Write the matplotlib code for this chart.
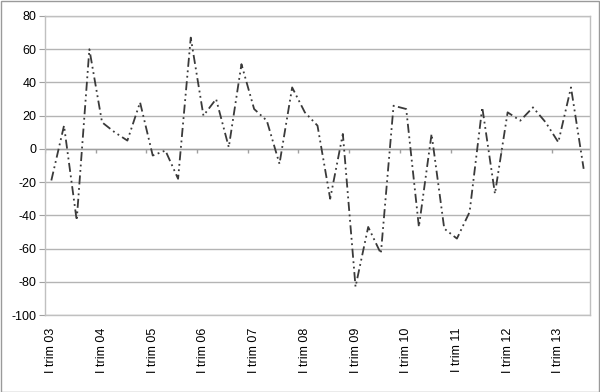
import matplotlib
matplotlib.use("Agg")
import matplotlib.pyplot as plt
from matplotlib.patches import Rectangle
import numpy as np

plt.rcParams['font.family'] = ['Liberation Sans', 'DejaVu Sans']

values = [-19, 14, -43, 60, 16, 10, 5, 28, -4, -1, -18, 67,
          20, 30, 1, 51, 24, 17, -9, 37, 22, 14, -30, 9,
          -83, -47, -63, 26, 24, -47, 9, -48, -54, -38, 25, -27,
          22, 17, 25, 16, 4, 37, -12]
years = ['03', '04', '05', '06', '07', '08', '09', '10', '11', '12', '13']
tick_labels = ['I trim ' + y for y in years]
y_ticks = list(range(-100, 81, 20))

fig = plt.figure(figsize=(6.0, 3.92), dpi=100)
ax = fig.add_axes([45/600, 1-315/392, 545/600, 299/392])

x = np.arange(len(values))
ax.plot(x, values, color='#3a3a3a', lw=1.3,
        linestyle=(0, (5, 2, 1, 2, 1, 2)))

ax.set_xlim(-0.5, len(values) - 0.5)
ax.set_ylim(-100, 80)
ax.set_yticks(y_ticks)
ax.set_yticklabels([str(v) for v in y_ticks], fontsize=9)
ax.yaxis.grid(True, color='#b4b4b4', lw=1)
ax.set_axisbelow(True)
ax.tick_params(axis='y', length=4, color='#a0a0a0', pad=2)

ax.set_xticks(np.arange(0, len(values), 4))
ax.set_xticklabels(tick_labels, rotation=90, fontsize=9)
ax.tick_params(axis='x', length=0, pad=9)

# category axis at zero with tick marks between categories
ax.axhline(0, color='#a0a0a0', lw=1, zorder=1)
ax.vlines(np.arange(-0.5, len(values), 4), -2.5, 0, color='#a0a0a0', lw=1, zorder=1)

for s in ax.spines.values():
    s.set_color('#c0c0c0')
    s.set_linewidth(1)

fig.patches.append(Rectangle((0.5/600, 0.5/392), 598.5/600, 390.5/392, transform=fig.transFigure,
                             fill=False, edgecolor='#9a9a9a', lw=1))

fig.savefig('out.png', dpi=100)
